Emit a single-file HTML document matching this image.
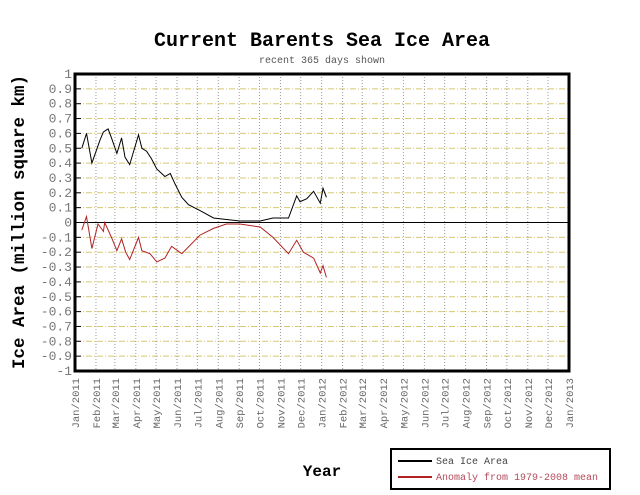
<!DOCTYPE html>
<html><head><meta charset="utf-8"><style>
body{margin:0;background:#fff;}
svg{display:block;font-family:"Liberation Mono",monospace;}
</style></head><body>
<svg id="chart" width="640" height="495" viewBox="0 0 640 495">
<text x="322" y="46" text-anchor="middle" font-size="20" font-weight="bold" fill="#000">Current Barents Sea Ice Area</text>
<text x="322" y="63" text-anchor="middle" font-size="10" fill="#555">recent 365 days shown</text>
<g id="grid"></g>
<g id="yaxis"></g>
<g id="xaxis"></g>
<line id="zero" stroke="#000" stroke-width="1"/>
<path id="ice" fill="none" stroke="#000" stroke-width="1"/>
<path id="anom" fill="none" stroke="#b22222" stroke-width="1"/>
<rect x="75" y="74" width="494" height="297" fill="none" stroke="#000" stroke-width="3"/>
<text transform="translate(24,222) rotate(-90)" text-anchor="middle" font-size="17.5" font-weight="bold">Ice Area (million square km)</text>
<text x="322" y="476" text-anchor="middle" font-size="16" font-weight="bold">Year</text>
<g>
<rect x="391" y="449" width="219" height="40" fill="#fff" stroke="#000" stroke-width="2"/>
<line x1="398" y1="461" x2="432" y2="461" stroke="#000" stroke-width="2"/>
<text x="436" y="464" font-size="10" fill="#444">Sea Ice Area</text>
<line x1="398" y1="477" x2="432" y2="477" stroke="#b22222" stroke-width="2"/>
<text x="436" y="480" font-size="10" fill="#b24a5a">Anomaly from 1979-2008 mean</text>
</g>
</svg>
<script>
const yTicks=[1,0.9,0.8,0.7,0.6,0.5,0.4,0.3,0.2,0.1,0,-0.1,-0.2,-0.3,-0.4,-0.5,-0.6,-0.7,-0.8,-0.9,-1];
const monthLabels=["Jan/2011","Feb/2011","Mar/2011","Apr/2011","May/2011","Jun/2011","Jul/2011","Aug/2011","Sep/2011","Oct/2011","Nov/2011","Dec/2011","Jan/2012","Feb/2012","Mar/2012","Apr/2012","May/2012","Jun/2012","Jul/2012","Aug/2012","Sep/2012","Oct/2012","Nov/2012","Dec/2012","Jan/2013"];
const monthDays=[0,31,59,90,120,151,181,212,243,273,304,334,365,396,425,456,486,517,547,578,609,639,670,700,731];
const iceDays=[10,17,25,37,42,49,54,62,69,74,81,94,99,106,113,121,133,141,148,158,168,185,205,224,244,274,293,316,328,333,343,353,363,367,372];
const iceValues=[0.50,0.60,0.40,0.555,0.61,0.63,0.57,0.465,0.57,0.44,0.39,0.59,0.50,0.48,0.43,0.36,0.31,0.33,0.26,0.17,0.12,0.08,0.03,0.02,0.01,0.01,0.03,0.03,0.18,0.14,0.16,0.21,0.13,0.23,0.17];
const anomDays=[10,17,25,34,42,44,54,62,69,75,81,94,99,111,121,133,143,158,185,205,224,244,274,293,316,328,338,353,363,367,372];
const anomValues=[-0.05,0.04,-0.175,-0.01,-0.06,0,-0.10,-0.19,-0.11,-0.20,-0.25,-0.10,-0.19,-0.21,-0.265,-0.24,-0.16,-0.21,-0.085,-0.04,-0.01,-0.01,-0.03,-0.10,-0.21,-0.12,-0.20,-0.24,-0.34,-0.29,-0.37];
const X0=75,X1=569,Y0=74,Y1=371,NS="http://www.w3.org/2000/svg";
const xs=d=>X0+d*(X1-X0)/731;
const ys=v=>Y0+(1-v)*(Y1-Y0)/2;
function mk(t,a,p){const e=document.createElementNS(NS,t);for(const k in a)e.setAttribute(k,a[k]);p.appendChild(e);return e;}
const grid=document.getElementById('grid'),ya=document.getElementById('yaxis'),xa=document.getElementById('xaxis');
yTicks.forEach(v=>{
  const y=ys(v);
  if(v!==1&&v!==-1&&v!==0){const g=mk('line',{x1:X0,x2:X1,y1:y,y2:y,stroke:'#d8c870','stroke-width':1,'stroke-dasharray':'6,2,1,2'},grid);
  
  }
  const tk=mk('line',{x1:X0,x2:X0+6,y1:y,y2:y,stroke:'#000'},ya);
  
  
  const t=mk('text',{x:X0-3,y:y+4,'text-anchor':'end','font-size':13,fill:'#777'},ya);
  
  
  t.textContent=String(v);
});
monthDays.forEach((d,i)=>{
  const x=xs(d);
  if(i>0&&i<monthDays.length-1){const g=mk('line',{x1:x,x2:x,y1:Y0,y2:Y1,stroke:'#999','stroke-width':1,'stroke-dasharray':'1,2'},grid);
  
  }
  const t=mk('text',{transform:`translate(${x+4},378) rotate(-90)`,'text-anchor':'end','font-size':10.5,fill:'#666'},xa);
  
  
  t.textContent=monthLabels[i];
});
const z=document.getElementById('zero');z.setAttribute('x1',X0);z.setAttribute('x2',X1);z.setAttribute('y1',ys(0));z.setAttribute('y2',ys(0));
document.getElementById('ice').setAttribute('d',iceDays.map((d,i)=>(i?'L':'M')+xs(d).toFixed(1)+','+ys(iceValues[i]).toFixed(1)).join(''));
document.getElementById('anom').setAttribute('d',anomDays.map((d,i)=>(i?'L':'M')+xs(d).toFixed(1)+','+ys(anomValues[i]).toFixed(1)).join(''));
</script>
</body></html>
